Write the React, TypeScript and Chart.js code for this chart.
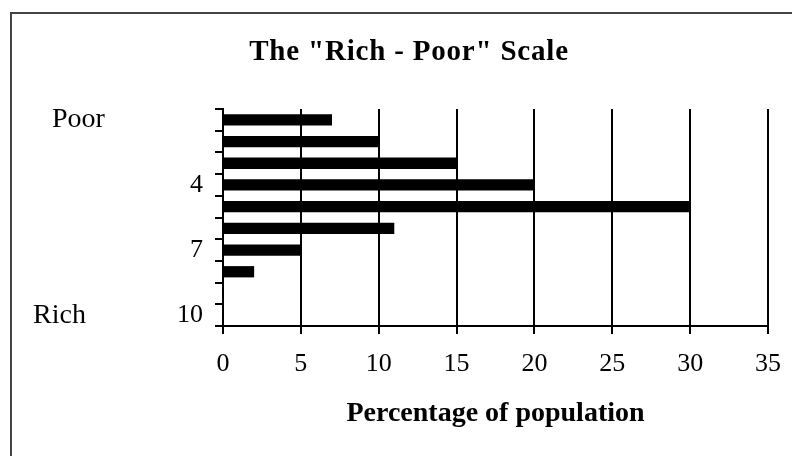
import React, { useEffect, useRef } from 'react';
import { Chart, registerables } from 'chart.js';

Chart.register(...registerables);

// ---- data ----
const CATEGORIES: string[] = ['1', '2', '3', '4', '5', '6', '7', '8', '9', '10'];
const SHOWN_LABELS: string[] = ['4', '7', '10'];
const VALUES: number[] = [7, 10, 15, 20, 30, 11, 5, 2, 0, 0];
const X_MIN = 0;
const X_MAX = 35;
const X_STEP = 5;
const TITLE = 'The "Rich - Poor" Scale';
const X_TITLE = 'Percentage of population';
const TOP_LABEL = 'Poor';
const BOTTOM_LABEL = 'Rich';

const FAMILY = '"Liberation Serif", "Times New Roman", serif';

const textPlugin = {
  id: 'extraTexts',
  afterDraw(chart: any) {
    const ctx: CanvasRenderingContext2D = chart.ctx;
    const y = chart.scales.y;
    ctx.save();
    ctx.fillStyle = '#000';
    ctx.font = `bold 29px ${FAMILY}`;
    (ctx as any).letterSpacing = '0.8px';
    ctx.textAlign = 'center';
    ctx.textBaseline = 'alphabetic';
    ctx.fillText(TITLE, 409, 60);
    (ctx as any).letterSpacing = '0px';
    ctx.font = `28px ${FAMILY}`;
    ctx.textAlign = 'left';
    ctx.textBaseline = 'middle';
    ctx.fillText(TOP_LABEL, 52, y.getPixelForValue(0));
    ctx.fillText(BOTTOM_LABEL, 33, y.getPixelForValue(CATEGORIES.length - 1));
    ctx.restore();
  },
};

export default function App() {
  const canvasRef = useRef<HTMLCanvasElement | null>(null);

  useEffect(() => {
    if (!canvasRef.current) return;
    const chart = new Chart(canvasRef.current, {
      type: 'bar',
      data: {
        labels: CATEGORIES,
        datasets: [
          {
            data: VALUES,
            backgroundColor: '#000',
            borderWidth: 0,
            barPercentage: 0.52,
            categoryPercentage: 1,
          },
        ],
      },
      options: {
        indexAxis: 'y',
        animation: false,
        responsive: false,
        devicePixelRatio: 1,
        layout: { padding: { top: 109, right: 24, bottom: 0, left: 0 } },
        plugins: {
          legend: { display: false },
          title: { display: false },
          tooltip: { enabled: false },
        },
        scales: {
          x: {
            type: 'linear',
            min: X_MIN,
            max: X_MAX,
            ticks: {
              stepSize: X_STEP,
              padding: 15,
              color: '#000',
              maxRotation: 0,
              font: { family: FAMILY, size: 26 },
            },
            grid: { color: '#000', lineWidth: 2, tickLength: 8, drawTicks: true },
            border: { color: '#000', width: 2 },
            title: {
              display: true,
              text: X_TITLE,
              color: '#000',
              font: { family: FAMILY, size: 28, weight: 'bold' },
              padding: { top: 0, bottom: 25 },
            },
            afterFit: (s: any) => {
              s.height = 130;
              s.paddingLeft = 0;
              s.paddingRight = 0;
            },
          },
          y: {
            type: 'category',
            offset: true,
            grid: {
              offset: true,
              drawOnChartArea: false,
              drawTicks: true,
              tickLength: 8,
              color: '#000',
              lineWidth: 2,
            },
            border: { color: '#000', width: 2 },
            ticks: {
              autoSkip: false,
              padding: 12,
              color: '#000',
              font: { family: FAMILY, size: 26 },
              callback: (_v: any, i: number) =>
                SHOWN_LABELS.includes(CATEGORIES[i]) ? CATEGORIES[i] : '',
            },
            afterFit: (s: any) => {
              s.width = 223;
              s.paddingTop = 0;
              s.paddingBottom = 0;
            },
          },
        },
      },
      plugins: [textPlugin],
    } as any);
    return () => chart.destroy();
  }, []);

  return (
    <div
      style={{
        position: 'absolute',
        left: 0,
        top: 0,
        width: 792,
        height: 456,
        overflow: 'hidden',
        background: '#fff',
      }}
    >
      <canvas ref={canvasRef} width={792} height={456} style={{ display: 'block' }} />
      <div
        style={{
          position: 'absolute',
          left: 10,
          top: 12,
          width: 780,
          height: 442,
          borderLeft: '2px solid #444',
          borderTop: '2px solid #444',
          pointerEvents: 'none',
        }}
      />
    </div>
  );
}
